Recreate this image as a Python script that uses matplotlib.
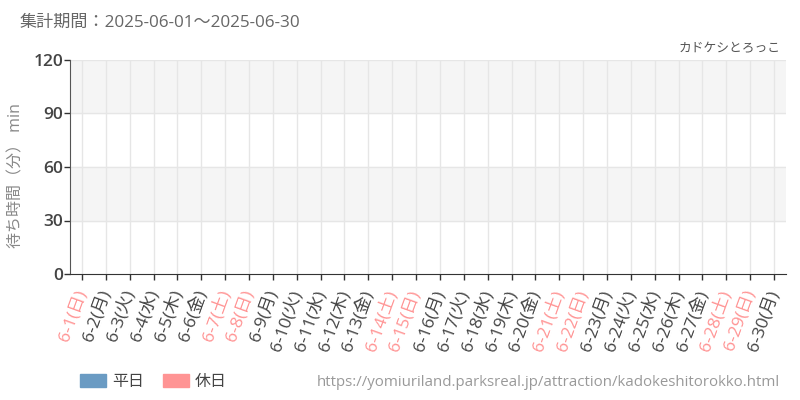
import numpy as np
import matplotlib
matplotlib.use('Agg')
import matplotlib.pyplot as plt
from matplotlib.patches import Patch

plt.rcParams['font.family'] = ['Open Sans', 'Noto Sans CJK JP', 'DejaVu Sans']

# データ（期間中の計測なし）
days = [f'6-{d}' for d in range(1, 31)]
weekdays = ['日', '月', '火', '水', '木', '金', '土'] * 5
weekdays = weekdays[:30]
holidays = [d in ('土', '日') for d in weekdays]
waits = [0] * 30
yticks = [0, 30, 60, 90, 120]

title = '集計期間：2025-06-01～2025-06-30'
name = 'カドケシとろっこ'
url = 'https://yomiuriland.parksreal.jp/attraction/kadokeshitorokko.html'

c_weekday = '#6a9bc3'
c_holiday = '#ff9494'

fig = plt.figure(figsize=(8, 4), dpi=100)
ax = fig.add_axes([0.0875, 0.315, 0.895, 0.535])

x = np.arange(len(days))
ax.bar(x, waits, width=0.8,
       color=[c_holiday if h else c_weekday for h in holidays])

ax.set_xlim(-0.5, len(days) - 0.5)
ax.set_ylim(0, 120)

# 背景の帯
for i in range(len(yticks) - 1):
    if i % 2 == 1:
        ax.axhspan(yticks[i], yticks[i + 1], color='#f5f5f5', zorder=0)
for y in yticks[1:]:
    ax.axhline(y, color='#e6e6e6', lw=1, zorder=0.5)
for xi in x:
    ax.axvline(xi, color='#e6e6e6', lw=1, zorder=0.5)

ax.set_yticks(yticks)
ax.set_yticklabels([str(v) for v in yticks], fontsize=12.5, color='#444', fontweight='semibold')
ax.set_xticks(x)
ax.set_xticklabels([f'{d}({w})' for d, w in zip(days, weekdays)],
                   rotation=70, ha='right', va='center', rotation_mode='anchor',
                   fontsize=12.5)
for lbl, h in zip(ax.get_xticklabels(), holidays):
    lbl.set_color(c_holiday if h else '#444')

ax.tick_params(axis='both', length=4, color='#333', width=1)
ax.tick_params(axis='x', pad=8)
ax.tick_params(axis='y', pad=1)
for s in ['top', 'right']:
    ax.spines[s].set_visible(False)
ax.spines['left'].set_color('#555')
ax.spines['bottom'].set_color('#333')

ax.set_ylabel('待ち時間（分） min', color='#888', fontsize=11.5)
ax.yaxis.set_label_coords(-0.063, 0.46)

fig.text(0.025, 0.943, title, fontsize=12.3, color='#666', va='center')
fig.text(0.976, 0.878, name, fontsize=9.2, color='#555', ha='right', va='center')
fig.text(0.975, 0.045, url, fontsize=10.8, color='#999', ha='right', va='center')

handles = [Patch(color=c_weekday, label='平日'), Patch(color=c_holiday, label='休日')]
fig.legend(handles=handles, loc='center left', bbox_to_anchor=(0.1, 0.045),
           ncol=2, frameon=False, fontsize=11.5, handlelength=1.6, handleheight=0.9,
           columnspacing=1.2, handletextpad=0.4, labelcolor='#444',
           borderaxespad=0, borderpad=0)

fig.savefig('out.png', dpi=100)
